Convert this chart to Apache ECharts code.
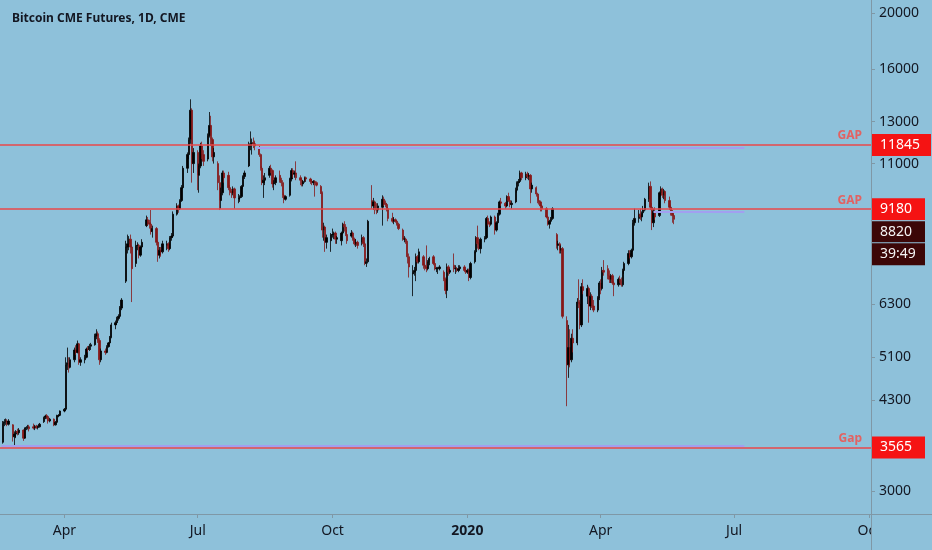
<!DOCTYPE html>
<html><head><meta charset="utf-8">
<script src="https://cdn.jsdelivr.net/npm/echarts@6/dist/echarts.min.js"></script>
<style>html,body{margin:0;padding:0;background:#8ec1da}#c{width:932px;height:550px}</style>
</head><body><div id="c"></div>
<script>
// ---------- DATA (daily bars, weekdays from firstDay; each row = [open, high, low, close]) ----------
const firstDay = '2019-02-18';
const q1_2019 = [
 [3640,3960,3620,3920],[3920,3990,3880,3950],[3950,4000,3900,3960],[3960,3990,3880,3910],[3910,3990,3890,3960],
 [3900,3910,3650,3720],[3720,3800,3600,3760],[3760,3820,3700,3800],[3800,3840,3740,3780],[3780,3850,3750,3820],
 [3820,3830,3660,3700],[3700,3860,3690,3850],[3850,3880,3820,3860],[3860,3900,3830,3870],[3870,3900,3800,3840],
 [3870,3920,3830,3850],[3850,3900,3820,3880],[3880,3900,3840,3860],[3860,3890,3830,3870],[3870,3930,3860,3910],
 [3950,4030,3930,4010],[4010,4060,3990,4040],[4040,4070,3990,4030],[4030,4050,3920,3960],[3960,4010,3940,3990],
 [3990,4000,3880,3900],[3900,3960,3890,3940],[3940,4060,3930,4040],[4040,4070,4020,4050],[4050,4130,4040,4120]
];
const q2_2019 = [
 [4120,4170,4100,4150],[4150,5100,4140,4950],[4950,5300,4850,4990],[4990,5100,4800,4900],[4900,5100,4880,5050],
 [5050,5300,5000,5250],[5250,5350,5150,5200],[5200,5450,5180,5380],[5380,5400,4950,5000],[5000,5100,4930,5050],
 [5050,5150,4980,5100],[5100,5300,5080,5270],[5270,5330,5200,5260],[5260,5380,5230,5330],[5330,5400,5250,5360],
 [5360,5600,5340,5550],[5550,5700,5480,5600],[5600,5650,5400,5450],[5450,5500,4950,5050],[5050,5280,5000,5230],
 [5230,5280,5150,5200],[5200,5350,5180,5320],[5320,5420,5300,5400],[5400,5550,5380,5520],[5520,5850,5500,5800],
 [5800,5900,5700,5850],[5850,5990,5800,5950],[5950,6050,5900,6000],[6000,6250,5980,6200],[6200,6450,6150,6400],
 [6900,8100,6850,7900],[7900,8300,7700,8000],[8000,8250,7800,8150],[8150,8300,7700,7900],[7900,7950,6350,7250],
 [7400,8100,7300,7950],[7950,8050,7800,7950],[7950,8000,7550,7650],[7650,7950,7600,7900],[7900,8150,7850,8050],
 [8600,8950,8550,8800],[8800,8900,8600,8700],[8700,8800,8500,8650],[8650,9150,8300,8400],[8400,8600,8200,8500],
 [8500,8550,7950,8050],[8050,8100,7450,7650],[7650,7900,7550,7800],[7800,7900,7600,7750],[7750,8100,7700,8000],
 [7950,8100,7800,8000],[8000,8050,7750,7850],[7850,8250,7800,8200],[8200,8350,8100,8250],[8250,9100,8200,9000],
 [9000,9400,8950,9300],[9300,9350,9050,9200],[9200,9550,9150,9500],[9500,10100,9450,10000],[10000,10900,9950,10800],
 [10800,11500,10600,11400],[11400,12200,11200,12100],[12100,14200,11900,13600],[13600,13700,10200,11000],[11000,11700,10600,11500]
];
const q3_2019 = [
 [11500,11600,9900,10500],[10500,11000,9800,10900],[10900,11950,10800,11800],[11800,12000,11200,11400],[11400,11600,10900,11100],
 [11200,12400,11100,12300],[12300,13500,12200,12800],[12800,13300,11800,12100],[12100,12200,11100,11300],[11300,11700,11000,11500],
 [11000,11100,9900,10200],[10200,10500,9150,9500],[9500,10000,9200,9800],[9800,10700,9700,10600],[10600,10700,10200,10400],
 [10500,10650,9900,10000],[10000,10100,9700,9850],[9850,9950,9600,9800],[9800,10050,9700,9950],[9950,10000,9200,9600],
 [9550,9750,9400,9600],[9600,9700,9450,9650],[9650,10100,9600,10050],[10050,10500,9950,10450],[10450,10700,10350,10600],
 [10900,12000,10850,11800],[11800,12500,11600,11900],[11900,12150,11400,11950],[11950,12200,11700,11900],[11900,12050,11600,11800],
 [11700,11800,11300,11400],[11400,11450,10700,10800],[10800,10900,10100,10200],[10200,10500,9600,10300],[10300,10600,10100,10400],
 [10500,10900,10400,10800],[10800,10950,10600,10700],[10700,10750,10000,10150],[10150,10300,9900,10200],[10200,10500,10100,10400],
 [10500,10700,10200,10300],[10300,10400,10050,10200],[10200,10300,9600,9700],[9700,9800,9400,9550],[9550,9700,9500,9650],
 [9700,10400,9650,10350],[10350,10800,10250,10700],[10700,10800,10400,10550],[10550,10700,10400,10600],[10600,11100,10300,10400],
 [10400,10500,10100,10300],[10300,10400,10050,10150],[10150,10300,10050,10250],[10250,10450,10200,10400],[10400,10450,10250,10350],
 [10350,10400,10150,10250],[10250,10350,10100,10200],[10200,10300,10100,10250],[10250,10300,9650,10200],[10200,10250,10050,10100],
 [10050,10100,9750,9800],[9800,9850,8200,8450],[8450,8700,8100,8550],[8550,8600,7750,8050],[8050,8300,7850,8200]
];
const q4_2019 = [
 [8100,8350,7750,8300],[8300,8500,8200,8300],[8300,8400,8150,8350],[8350,8400,8000,8150],[8150,8250,8000,8200],
 [8100,8400,7950,8350],[8350,8700,8300,8650],[8650,8750,8400,8550],[8550,8650,8250,8300],[8300,8450,8000,8100],
 [8250,8450,8200,8350],[8350,8400,8100,8150],[8150,8200,7950,8000],[8000,8150,7900,8050],[8050,8100,7850,7950],
 [8050,8300,7950,8200],[8200,8250,7900,8000],[8000,8050,7350,7400],[7400,7550,7300,7450],[7450,8800,7400,8750],
 [9500,10100,9200,9300],[9300,9600,9150,9450],[9450,9500,9000,9200],[9200,9400,9000,9150],[9150,9400,9050,9300],
 [9250,9700,8600,9550],[9550,9650,9300,9400],[9400,9500,9250,9350],[9350,9400,9100,9200],[9200,9250,8750,8850],
 [8850,9050,8700,8750],[8750,8900,8650,8800],[8800,8850,8700,8750],[8750,8800,8600,8650],[8650,8700,8450,8500],
 [8450,8500,8100,8150],[8150,8250,8050,8150],[8150,8200,8000,8050],[8050,8100,7400,7600],[7600,7700,7000,7300],
 [7100,7350,6500,7150],[7150,7300,7050,7200],[7200,7700,6900,7600],[7600,7650,7400,7450],[7450,7850,7400,7750],
 [7600,7650,7250,7350],[7350,7400,7200,7300],[7300,7950,7150,7250],[7250,7500,7200,7450],[7450,7600,7350,7550],
 [7600,7650,7350,7400],[7400,7450,7200,7250],[7250,7300,7150,7250],[7250,7300,7100,7250],[7250,7350,7200,7300],
 [7150,7200,6900,6950],[6950,7000,6550,6650],[6650,7400,6450,7300],[7300,7350,7050,7150],[7150,7250,7100,7200],
 [7350,7700,7150,7250],[7250,7350,7100,7250],[7250,7300,7150,7200],[7200,7350,7150,7250],[7250,7350,7200,7300]
];
const q1_2020 = [
 [7300,7350,7150,7200],[7200,7250,7100,7150],[7150,7250,7100,7200],[7200,7250,6900,7000],[7000,7450,6950,7400],
 [7450,7800,7400,7750],[7750,8250,7700,8200],[8200,8600,7850,8000],[8000,8050,7800,7850],[7850,8200,7700,8150],
 [8150,8250,8050,8200],[8200,8900,8150,8850],[8850,8950,8600,8700],[8700,8750,8550,8650],[8650,8950,8600,8900],
 [8900,8950,8300,8450],[8450,8750,8400,8700],[8700,9050,8650,9000],[9000,9500,8950,9450],[9450,9600,9300,9400],
 [9400,9450,9200,9300],[9300,9700,9250,9650],[9650,9800,9450,9500],[9500,9600,9250,9350],[9350,9500,9200,9400],
 [9450,10000,9400,9900],[9900,10250,9800,10200],[10200,10350,10050,10250],[10250,10700,10200,10600],[10600,10650,10300,10400],
 [10400,10650,10300,10550],[10550,10650,10350,10450],[10450,10600,10300,10500],[10500,10550,9400,9950],[9950,10200,9800,10100],
 [10000,10050,9650,9750],[9750,9800,9400,9500],[9500,9650,9350,9450],[9450,9500,9100,9300],[9300,9350,9100,9200],
 [9200,9250,8850,8900],[8900,8950,8600,8650],[8650,8800,8500,8750],[8750,8900,8700,8850],[8850,9250,8800,9200],
 [8300,8350,7850,7950],[7950,8100,7800,8000],[8000,8050,7700,7800],[7800,7950,7700,7850],[7850,7900,5950,6000],
 [5900,6000,4200,4950],[4950,5800,4700,5300],[5300,5700,4900,5050],[5050,5600,5000,5500],[5500,5700,5200,5400],
 [5400,6450,5350,6350],[6350,6950,6200,6300],[6300,6400,5700,5800],[5800,6850,5750,6750],[6750,6950,6550,6650],
 [6500,6800,6300,6700],[6700,6750,5850,6250],[6250,6600,6150,6500],[6500,6550,6200,6250],[6250,6400,6100,6150]
];
const q2_2020 = [
 [6150,6500,6100,6450],[6450,6900,6400,6850],[6850,6950,6550,6700],[6700,7300,6650,7200],[7200,7500,7050,7150],
 [7250,7350,6950,7050],[7050,7200,6850,6950],[6950,7100,6850,7050],[7050,7100,6800,6850],[6850,6900,6500,6800],
 [6800,7000,6750,6950],[6950,7050,6850,6900],[6900,7000,6750,6800],[6800,7250,6750,7200],[7200,7450,7100,7400],
 [7400,7800,7350,7700],[7700,7800,7550,7600],[7600,7850,7550,7800],[7800,8800,7750,8700],[8700,9200,8600,8850],
 [8850,9150,8700,9000],[9000,9200,8800,8900],[8900,9100,8750,9050],[9050,9300,8950,9150],[9150,9600,9100,9550],
 [9550,10200,9450,10050],[10050,10250,9150,9250],[9250,9400,8450,8700],[8700,9200,8550,9100],[9100,9250,8800,8900],
 [8950,9850,8900,9800],[9800,10050,9650,9950],[9950,10000,9600,9700],[9700,9950,9550,9850],[9850,9900,9400,9500],
 [9500,9650,9150,9250],[9250,9350,8950,9050],[9050,9150,8700,8950],[8950,9000,8650,8820]
];

const xTickDates  = ['2019-04-01','2019-07-01','2019-10-01','2020-01-01','2020-04-01','2020-07-01','2020-10-01'];
const xTickLabels = ['Apr','Jul','Oct','2020','Apr','Jul','Oct'];
const yTickValues = [3000, 4300, 5100, 6300, 11000, 13000, 16000, 20000];
const gapLevels = [11845, 9180, 3565];
const gapTexts  = ['GAP', 'GAP', 'Gap'];
const lastPrice = 8820;
const countdown = '39:49';
const rayLevels = [11700, 9070, 3590];
const rayStarts = ['2019-08-10', '2020-05-07', '2019-02-17'];
const rayEnd = '2020-07-08';
const titleText = 'Bitcoin CME Futures, 1D, CME';

// ---------- BUILD ----------
const BG = '#8ec1da', AXIS = '#7f98a6', FONT = 'Noto Sans', NONE = 'rgba(0,0,0,0)';
const rows = [].concat(q1_2019, q2_2019, q3_2019, q4_2019, q1_2020, q2_2020);
const ts = s => Date.parse(s + 'T00:00:00Z');
const dates = [];
{ let t = ts(firstDay); while (dates.length < rows.length) { const wd = new Date(t).getUTCDay(); if (wd > 0 && wd < 6) dates.push(t); t += 86400000; } }
const candles = rows.map((r, i) => [dates[i], r[0], r[3], r[2], r[1]]);
const xTickTs = xTickDates.map(ts);

const boxStyle = (bg) => ({ backgroundColor: bg, color: '#f4f4f4', fontSize: 14, fontFamily: FONT, width: 40, padding: [4, 5, 4, 9], borderColor: BG, borderWidth: 1 });
const markData = [];
rayLevels.forEach((v, i) => {
  markData.push([{ coord: [ts(rayStarts[i]), v], lineStyle: { color: '#a29ff0', width: 2, type: 'solid', opacity: 1 }, label: { show: false } }, { coord: [ts(rayEnd), v] }]);
});
gapLevels.forEach((v, i) => {
  markData.push({ yAxis: v, lineStyle: { color: '#e8474a', width: 1.5, type: 'solid' },
    label: { show: true, position: 'insideEndTop', formatter: gapTexts[i], color: '#e26262', fontWeight: 'bold', fontSize: 12, fontFamily: FONT, distance: [9, 3] } });
  markData.push({ yAxis: v, lineStyle: { color: NONE, width: 0 },
    label: { show: true, position: 'end', distance: 0, formatter: String(v), backgroundColor: '#f51313', color: '#ffffff', fontSize: 14, fontFamily: FONT,
      padding: [4, 5, 4, 9], width: String(v).length > 4 ? 46 : 40 } });
});
markData.push({ yAxis: lastPrice, lineStyle: { color: NONE, width: 0 },
  label: { show: true, position: 'end', distance: 0, verticalAlign: 'top', padding: [2, 0, 0, 0], formatter: '{a|' + lastPrice + '}\n{b|' + countdown + '}',
    rich: { a: boxStyle('#3c0707'), b: boxStyle('#3c0707') } } });

const chart = echarts.init(document.getElementById('c'), null, { renderer: 'canvas' });
chart.setOption({
  animation: false,
  backgroundColor: BG,
  title: { text: titleText, left: 7, top: 8, textStyle: { fontSize: 12, fontWeight: 'bold', color: '#131722', fontFamily: FONT } },
  grid: { left: 0, right: 61, top: 0, bottom: 36, containLabel: false },
  xAxis: {
    type: 'value', min: Date.parse('2019-02-16T02:00:00Z'), max: Date.parse('2020-10-02T10:00:00Z'), scale: true,
    axisLine: { show: true, lineStyle: { color: AXIS, width: 1 } },
    axisTick: { show: true, length: 4, lineStyle: { color: AXIS }, customValues: xTickTs },
    axisLabel: { customValues: xTickTs, margin: 10, fontSize: 14, fontFamily: FONT, color: '#131722',
      formatter: v => { const i = xTickTs.indexOf(v); const s = i >= 0 ? xTickLabels[i] : ''; return /^\d{4}$/.test(s) ? '{y|' + s + '}' : s; },
      rich: { y: { fontWeight: 'bold', fontSize: 14, fontFamily: FONT, color: '#131722' } } },
    splitLine: { show: false }
  },
  yAxis: {
    type: 'log', logBase: 10, position: 'right', min: 2738, max: 21059,
    axisLine: { show: true, lineStyle: { color: AXIS, width: 1 } },
    axisTick: { show: true, length: 4, lineStyle: { color: AXIS }, customValues: yTickValues },
    axisLabel: { customValues: yTickValues, margin: 8, fontSize: 14, fontFamily: FONT, color: '#131722', formatter: v => String(Math.round(v)) },
    splitLine: { show: false }
  },
  series: [{
    type: 'candlestick', data: candles, encode: { x: 0, y: [1, 2, 3, 4] },
    barWidth: 1.9,
    itemStyle: { color: '#000000', color0: '#861818', borderColor: '#000000', borderColor0: '#861818', borderWidth: 0.8 },
    markLine: { silent: true, symbol: ['none', 'none'], animation: false, data: markData }
  }],
  graphic: [
    { type: 'rect', shape: { x: 871.5, y: 515, width: 61, height: 35 }, style: { fill: BG }, z: 100 },
    { type: 'line', shape: { x1: 871.5, y1: 0, x2: 871.5, y2: 550 }, style: { stroke: AXIS, lineWidth: 1 }, z: 101 },
    { type: 'line', shape: { x1: 0, y1: 514.5, x2: 932, y2: 514.5 }, style: { stroke: AXIS, lineWidth: 1 }, z: 101 }
  ]
});
</script></body></html>
